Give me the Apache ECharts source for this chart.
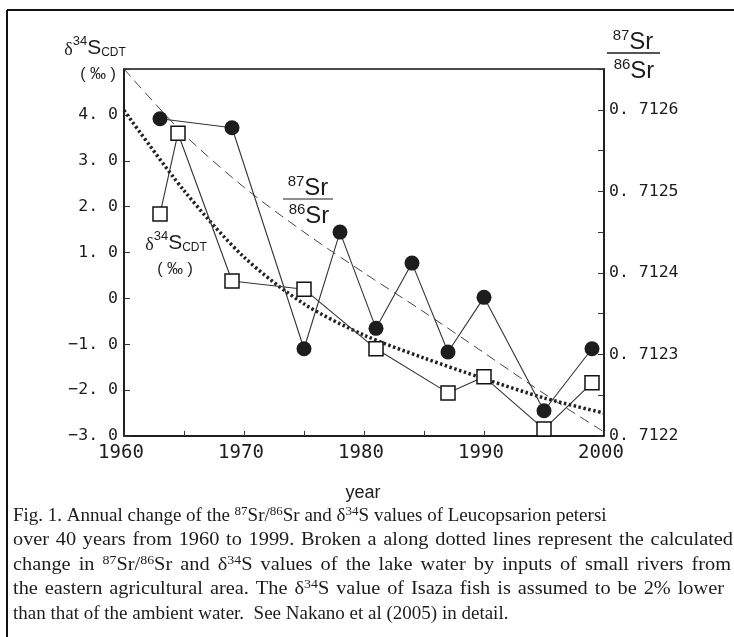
<!DOCTYPE html>
<html>
<head>
<meta charset="utf-8">
<script src="https://cdn.jsdelivr.net/npm/echarts@6/dist/echarts.min.js"></script>
<style>
  html, body { margin: 0; padding: 0; background: #fff; }
  #chart { width: 734px; height: 637px; }
</style>
</head>
<body>
<div id="chart"></div>
<script>
// Leucopsarion petersi (Isaza): 87Sr/86Sr and δ34S by year
const srYears = [1963, 1969, 1975, 1978, 1981, 1984, 1987, 1990, 1995, 1999];
const srValues = [0.712589, 0.712578, 0.712307, 0.71245, 0.712332, 0.712412, 0.712303, 0.71237, 0.712231, 0.712307];

const sYears = [1963, 1964.5, 1969, 1975, 1981, 1987, 1990, 1995, 1999];
const sValues = [1.84, 3.60, 0.38, 0.20, -1.10, -2.06, -1.71, -2.85, -1.84];

// calculated lake-water curves
const modelYears = [1960, 1965, 1970, 1975, 1980, 1985, 1990, 1995, 2000];
const srModel = [0.71265, 0.71257, 0.712505, 0.71245, 0.7124, 0.712352, 0.712302, 0.712252, 0.712205];
const sModel = [4.1, 2.35, 0.9, -0.12, -0.8, -1.3, -1.75, -2.17, -2.5];

// axis ranges and tick steps
const xRange = [1960, 2000], xStep = 5;
const sRange = [-3, 5], sStep = 1;
const srRange = [0.7122, 0.71265], srStep = 0.00005;

const captionLines = [
  'Fig. 1. Annual change of the {sup|87}Sr/{sup|86}Sr and δ{sup|34}S values of Leucopsarion petersi',
  'over 40 years from 1960 to 1999. Broken a along dotted lines represent the calculated',
  'change in {sup|87}Sr/{sup|86}Sr and δ{sup|34}S values of the lake water by inputs of small rivers from',
  'the eastern agricultural area. The δ{sup|34}S value of Isaza fish is assumed to be 2% lower',
  'than that of the ambient water.  See Nakano et al (2005) in detail.'
];
// right edge for justified caption lines (null = ragged)
const captionRight = [null, 733, 731, 724, null];

const pair = (xs, ys) => xs.map((x, i) => [x, ys[i]]);
const INK = '#1c1c1c';
const SANS = 'Liberation Sans, Arial, sans-serif';
const MONO = 'DejaVu Sans Mono, monospace';
const SERIF = 'Liberation Serif, Times New Roman, serif';
const CAP_SIZE = 19, CAP_SUP = 13, CAP_MAX_STRETCH = 1.07;

const fmtS = v => {
  if (v === sRange[1]) return '';
  if (v === 0) return '0';
  return (v < 0 ? '−' : '') + Math.abs(v).toFixed(1).replace('.', '. ');
};
const fmtSr = v => (Math.round(v * 1e5) % 10 === 0 ? v.toFixed(4).replace('.', '. ') : '');
const fmtX = v => (v % 10 === 0 ? String(v) : '');

function label(x, y, text, opts) {
  return {
    type: 'text', x: x, y: y, z: 100,
    style: Object.assign({ text: text, fill: INK, textAlign: 'center', textVerticalAlign: 'middle' }, opts || {})
  };
}

// δ34S_CDT rich label
function deltaLabel(x, y) {
  return label(x, y, '{d|δ}{n|34}{s|S}{c|CDT}', {
    rich: {
      d: { fontSize: 18, fontFamily: SERIF, fill: INK, lineHeight: 24, verticalAlign: 'bottom' },
      n: { fontSize: 13, fontFamily: SANS, fill: INK, lineHeight: 24, verticalAlign: 'top' },
      s: { fontSize: 21, fontFamily: SANS, fill: INK, lineHeight: 24, verticalAlign: 'bottom' },
      c: { fontSize: 12, fontFamily: SANS, fill: INK, lineHeight: 24, verticalAlign: 'bottom' }
    }
  });
}

function srLabel(x, y, mass) {
  return label(x, y, '{n|' + mass + '}{s|Sr}', {
    rich: {
      n: { fontSize: 15, fontFamily: SANS, fill: INK, lineHeight: 26, verticalAlign: 'top' },
      s: { fontSize: 24, fontFamily: SANS, fill: INK, lineHeight: 26, verticalAlign: 'bottom' }
    }
  });
}

const permil = '( ‰ )';

const graphics = [
  // figure frame
  { type: 'line', shape: { x1: 7, y1: 10, x2: 7, y2: 637 }, style: { stroke: '#111', lineWidth: 2 } },
  { type: 'line', shape: { x1: 7, y1: 10, x2: 734, y2: 10 }, style: { stroke: '#111', lineWidth: 2 } },

  // left axis title
  deltaLabel(95, 47),
  label(98, 75, permil, { font: '16px ' + SANS }),

  // right axis title
  srLabel(633, 41, 87),
  { type: 'line', shape: { x1: 607, y1: 53, x2: 660, y2: 53 }, style: { stroke: INK, lineWidth: 1.5 } },
  srLabel(634, 70, 86),

  // in-plot labels
  srLabel(308, 187, 87),
  { type: 'line', shape: { x1: 283, y1: 199, x2: 333, y2: 199 }, style: { stroke: INK, lineWidth: 1.2 } },
  srLabel(309, 215, 86),
  deltaLabel(176, 242),
  label(175, 270, permil, { font: '16px ' + SANS }),

  // x axis title
  label(363, 493, 'year', { font: '18px ' + SANS })
];

// caption: ragged lines as one text, justified lines word by word
const mctx = document.createElement('canvas').getContext('2d');
function textWidth(s, size) {
  mctx.font = size + 'px ' + SERIF;
  return mctx.measureText(s).width;
}
function richWidth(str) {
  const re = /\{sup\|([^}]*)\}/g;
  let w = 0, last = 0, m;
  while ((m = re.exec(str))) {
    w += textWidth(str.slice(last, m.index), CAP_SIZE);
    w += textWidth(m[1], CAP_SUP);
    last = re.lastIndex;
  }
  return w + textWidth(str.slice(last), CAP_SIZE);
}
const capRich = {
  sup: { fontSize: CAP_SUP, fontFamily: SERIF, fill: INK, verticalAlign: 'top', lineHeight: 22 }
};
function capText(x, y, t, sx) {
  return {
    type: 'text', x: x, y: y, z: 100, scaleX: sx || 1,
    style: {
      text: t, fill: INK, font: CAP_SIZE + 'px ' + SERIF,
      textAlign: 'left', textVerticalAlign: 'middle', rich: capRich
    }
  };
}
const CAP_LEFT = 13;
captionLines.forEach((t, i) => {
  const y = 516 + i * 24.5;
  const right = captionRight[i];
  if (right === null) {
    graphics.push(capText(CAP_LEFT, y, t));
    return;
  }
  const words = t.split(' ');
  const widths = words.map(richWidth);
  const spaceW = textWidth(' ', CAP_SIZE);
  const natural = widths.reduce((a, b) => a + b, 0) + spaceW * (words.length - 1);
  const target = right - CAP_LEFT;
  const sx = Math.min(CAP_MAX_STRETCH, target / natural);
  const total = widths.reduce((a, b) => a + b, 0) * sx;
  const gap = (target - total) / (words.length - 1);
  let x = CAP_LEFT;
  words.forEach((w, k) => {
    graphics.push(capText(x, y, w, sx));
    x += widths[k] * sx + gap;
  });
});

const chart = echarts.init(document.getElementById('chart'), null, { renderer: 'canvas' });

chart.setOption({
  animation: false,
  backgroundColor: '#fff',
  grid: {
    left: 124, right: 130, top: 69, bottom: 201,
    containLabel: false, outerBoundsMode: 'none',
    show: true, borderColor: '#111', borderWidth: 1.5, backgroundColor: 'transparent'
  },
  xAxis: {
    type: 'value', min: xRange[0], max: xRange[1], interval: xStep,
    axisLine: { onZero: false, lineStyle: { color: '#111', width: 1.5 } },
    axisTick: { inside: true, length: 5, lineStyle: { color: '#333' } },
    splitLine: { show: false },
    axisLabel: { formatter: fmtX, color: INK, fontSize: 19, fontFamily: MONO, margin: 8, padding: [0, 6, 0, 0] }
  },
  yAxis: [
    {
      type: 'value', position: 'left', min: sRange[0], max: sRange[1], interval: sStep,
      axisLine: { show: true, onZero: false, lineStyle: { color: '#111', width: 1.5 } },
      axisTick: { show: true, inside: true, length: 6, lineStyle: { color: '#333' } },
      splitLine: { show: false },
      axisLabel: { formatter: fmtS, color: INK, fontSize: 16.5, fontFamily: MONO, margin: 6 }
    },
    {
      type: 'value', position: 'right', min: srRange[0], max: srRange[1], interval: srStep,
      axisLine: { show: true, onZero: false, lineStyle: { color: '#111', width: 1.5 } },
      axisTick: { show: true, inside: true, length: 6, lineStyle: { color: '#333' } },
      splitLine: { show: false },
      axisLabel: { formatter: fmtSr, color: INK, fontSize: 16.5, fontFamily: MONO, margin: 5 }
    }
  ],
  series: [
    {
      name: 'calc 87Sr/86Sr', type: 'line', yAxisIndex: 1,
      data: pair(modelYears, srModel), smooth: 0.3, showSymbol: false, symbol: 'none',
      lineStyle: { color: '#444', width: 1, type: [10, 6] }, z: 2
    },
    {
      name: 'calc δ34S', type: 'line', yAxisIndex: 0,
      data: pair(modelYears, sModel), smooth: 0.3, showSymbol: false, symbol: 'none',
      lineStyle: { color: '#222', width: 3.5, type: [2.5, 2.5] }, z: 2
    },
    {
      name: '87Sr/86Sr', type: 'line', yAxisIndex: 1,
      data: pair(srYears, srValues),
      symbol: 'circle', symbolSize: 15,
      itemStyle: { color: '#1d1d1d' },
      lineStyle: { color: '#333', width: 1.1 }, z: 3
    },
    {
      name: 'δ34S', type: 'line', yAxisIndex: 0,
      data: pair(sYears, sValues),
      symbol: 'rect', symbolSize: 14,
      itemStyle: { color: '#fff', borderColor: '#111', borderWidth: 1.5 },
      lineStyle: { color: '#333', width: 1.1 }, z: 4
    }
  ],
  graphic: graphics
});
</script>
</body>
</html>
